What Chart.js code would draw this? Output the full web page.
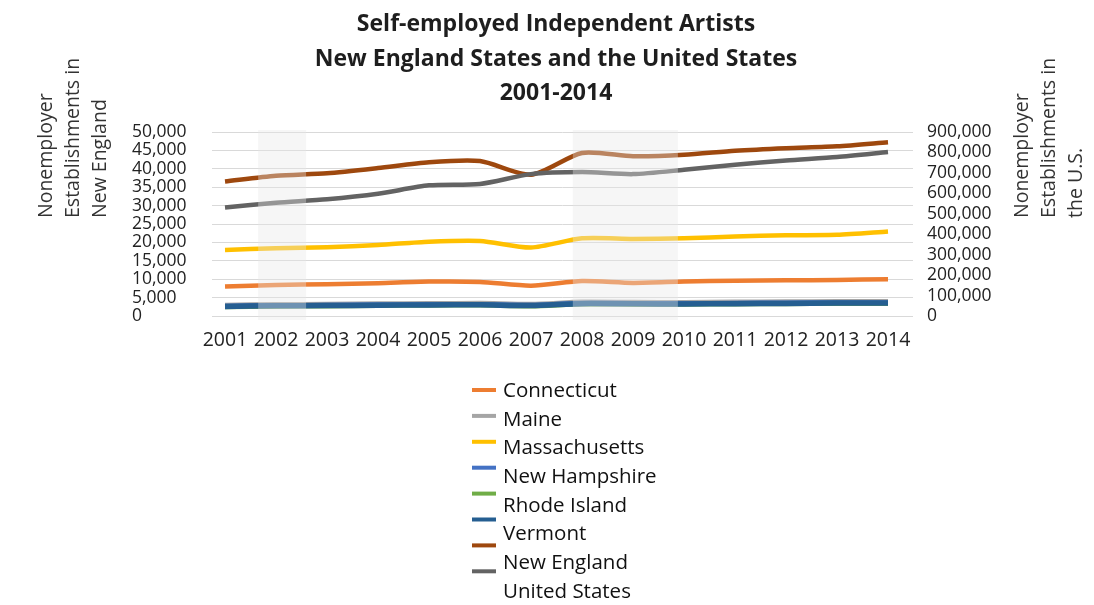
<!DOCTYPE html>
<html>
<head>
<meta charset="utf-8">
<script src="https://cdn.jsdelivr.net/npm/chart.js@4.4.1/dist/chart.umd.min.js"></script>
<style>
  html, body { margin: 0; padding: 0; background: #fff; }
  .chart-box { position: relative; width: 1094px; height: 605px; }
</style>
</head>
<body>
<div class="chart-box"><canvas id="chart"></canvas></div>
<script>
const years = [2001, 2002, 2003, 2004, 2005, 2006, 2007, 2008, 2009, 2010, 2011, 2012, 2013, 2014];

// New England states, left axis
const connecticut   = [8000, 8450, 8600, 8900, 9350, 9250, 8250, 9500, 9000, 9350, 9600, 9700, 9800, 10000];
const maine         = [3000, 3180, 3250, 3390, 3450, 3510, 3260, 3850, 3780, 3750, 3850, 3920, 4000, 4000];
const massachusetts = [17950, 18400, 18700, 19300, 20200, 20400, 18600, 21100, 20950, 21100, 21600, 21950, 22050, 22950];
const newHampshire  = [2750, 2920, 2980, 3110, 3170, 3220, 3000, 3540, 3480, 3450, 3540, 3610, 3680, 3680];
const rhodeIsland   = [2450, 2610, 2670, 2790, 2860, 2910, 2680, 3210, 3150, 3130, 3210, 3270, 3350, 3350];
const vermont       = [2600, 2760, 2820, 2940, 3010, 3060, 2830, 3360, 3300, 3280, 3360, 3420, 3500, 3500];
const newEngland    = [36550, 38100, 38800, 40200, 41800, 42100, 38400, 44300, 43400, 43800, 44900, 45600, 46100, 47200];
// United States, right axis
const unitedStates  = [531000, 554000, 571000, 598000, 639000, 646000, 694000, 704000, 694000, 715000, 740000, 761000, 778000, 802000];

const seriesNames = ['Connecticut', 'Maine', 'Massachusetts', 'New Hampshire', 'Rhode Island', 'Vermont', 'New England', 'United States'];
const seriesColors = ['#ED7D31', '#A5A5A5', '#FFC000', '#4472C4', '#70AD47', '#255E91', '#9E480E', '#636363'];

const leftTicks = [0, 5000, 10000, 15000, 20000, 25000, 30000, 35000, 40000, 45000, 50000];
const rightTicks = [0, 100000, 200000, 300000, 400000, 500000, 600000, 700000, 800000, 900000];

const titleLines = ['Self-employed Independent Artists', 'New England States and the United States', '2001-2014'];
const leftAxisTitle = ['Nonemployer', 'Establishments in', 'New England'];
const rightAxisTitle = ['Nonemployer', 'Establishments in', 'the U.S.'];

// faint grey scan bands over the plot, in year units
const shadeBands = [[2001.65, 2002.59], [2007.82, 2009.88]];

const FONT = '"Open Sans", "Liberation Sans", sans-serif';

const seriesData = [connecticut, maine, massachusetts, newHampshire, rhodeIsland, vermont, newEngland, unitedStates];

const datasets = seriesNames.map((name, i) => ({
  label: name,
  data: years.map((yr, j) => ({ x: yr, y: seriesData[i][j] })),
  borderColor: seriesColors[i],
  backgroundColor: seriesColors[i],
  borderWidth: name === 'Vermont' ? 5.5 : 4.5,
  pointRadius: 0,
  pointHoverRadius: 0,
  tension: 0.25,
  yAxisID: name === 'United States' ? 'y2' : 'y',
  order: seriesNames.length - i
}));

const decor = {
  id: 'decor',
  beforeDraw(chart) {
    const c = chart.ctx;
    c.save();
    c.fillStyle = '#fff';
    c.fillRect(0, 0, chart.width, chart.height);
    c.restore();
  },
  afterDatasetsDraw(chart) {
    const c = chart.ctx;
    const xs = chart.scales.x;
    const area = chart.chartArea;
    c.save();
    c.fillStyle = 'rgba(232,232,232,0.38)';
    shadeBands.forEach(([a, b]) => {
      const x1 = xs.getPixelForValue(a);
      const x2 = xs.getPixelForValue(b);
      c.fillRect(x1, area.top - 2, x2 - x1, area.bottom - area.top + 6);
    });
    c.restore();
  },
  afterDraw(chart) {
    const c = chart.ctx;
    c.save();

    // title
    c.fillStyle = '#1e1e1e';
    c.font = 'bold 23px ' + FONT;
    c.textAlign = 'center';
    c.textBaseline = 'alphabetic';
    titleLines.forEach((t, i) => c.fillText(t, 556, 31 + i * 34.5));

    // axis titles, rotated, bottom-aligned
    c.fillStyle = '#333';
    c.font = '19.5px ' + FONT;
    c.textAlign = 'left';
    c.textBaseline = 'middle';
    const drawRot = (lines, xs) => {
      lines.forEach((t, i) => {
        c.save();
        c.translate(xs[i], 218);
        c.rotate(-Math.PI / 2);
        c.fillText(t, 0, 0);
        c.restore();
      });
    };
    drawRot(leftAxisTitle, [46, 73, 100]);
    drawRot(rightAxisTitle, [1022, 1049, 1076]);

    // legend, one entry per line
    c.font = '20.5px ' + FONT;
    c.textBaseline = 'middle';
    chart.data.datasets.forEach((ds, i) => {
      const my = 390 + i * 25.9;
      const ty = 391 + i * 28.7;
      c.strokeStyle = ds.borderColor;
      c.lineWidth = 4;
      c.beginPath();
      c.moveTo(472, my);
      c.lineTo(496, my);
      c.stroke();
      c.fillStyle = '#111';
      c.fillText(ds.label, 503, ty);
    });
    c.restore();
  }
};

new Chart(document.getElementById('chart'), {
  type: 'line',
  data: { datasets },
  options: {
    responsive: true,
    maintainAspectRatio: false,
    animation: false,
    layout: { autoPadding: false, padding: { left: 132, right: 0, top: 132, bottom: 249 } },
    plugins: {
      legend: { display: false },
      title: { display: false },
      tooltip: { enabled: false }
    },
    scales: {
      x: {
        type: 'linear',
        min: 2000.745,
        max: 2014.49,
        grid: { display: false, drawTicks: false },
        border: { display: false },
        afterBuildTicks: s => { s.ticks = years.map(v => ({ value: v })); },
        afterFit: s => { s.height = 40; },
        ticks: {
          autoSkip: false,
          maxRotation: 0,
          padding: 13,
          color: '#222',
          font: { family: FONT, size: 19.5 },
          callback: v => String(v)
        }
      },
      y: {
        position: 'left',
        min: 0,
        max: 50000,
        afterBuildTicks: s => { s.ticks = leftTicks.map(v => ({ value: v })); },
        afterFit: s => { s.width = 80; },
        grid: { color: '#d9d9d9', lineWidth: 1, drawTicks: false },
        border: { display: false },
        ticks: {
          autoSkip: false,
          crossAlign: 'far',
          color: '#222',
          font: { family: FONT, size: 17.5, lineHeight: 1 },
          callback: v => v.toLocaleString('en-US')
        }
      },
      y2: {
        position: 'right',
        min: 0,
        max: 900000,
        afterBuildTicks: s => { s.ticks = rightTicks.map(v => ({ value: v })); },
        afterFit: s => { s.width = 181; },
        grid: { display: false, drawTicks: false },
        border: { display: false },
        ticks: {
          autoSkip: false,
          padding: 14,
          color: '#222',
          font: { family: FONT, size: 17.5, lineHeight: 1 },
          callback: v => v.toLocaleString('en-US')
        }
      }
    }
  },
  plugins: [decor]
});
</script>
</body>
</html>
